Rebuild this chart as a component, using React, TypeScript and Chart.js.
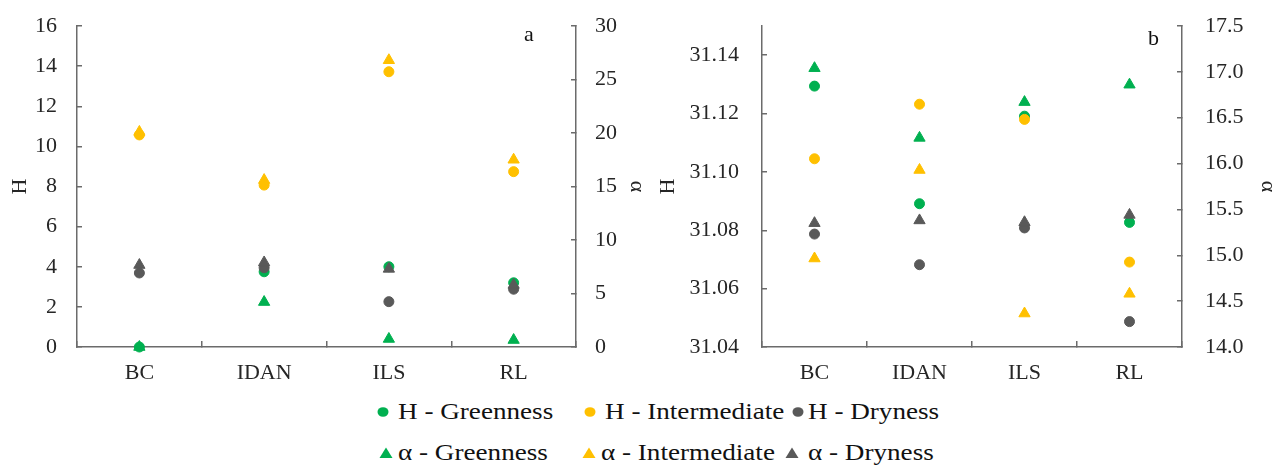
import React, { useEffect, useRef } from 'react';
import { Chart, registerables } from 'chart.js';

Chart.register(...registerables);

// ---------- data ----------
const categories = ['BC', 'IDAN', 'ILS', 'RL'];

const seriesNames = [
  'H - Greenness',
  'H - Intermediate',
  'H - Dryness',
  'α - Greenness',
  'α - Intermediate',
  'α - Dryness',
];
const seriesColors = ['#00B050', '#FFC000', '#595959', '#00B050', '#FFC000', '#595959'];

// Panel a (H on left axis, α on right axis)
const aHGreenness = [0.0, 3.75, 4.0, 3.2];
const aHIntermediate = [10.57, 8.07, 13.72, 8.74];
const aHDryness = [3.69, 3.95, 2.26, 2.88];
const aAlphaGreenness = [0.0, 4.2, 0.75, 0.65];
const aAlphaIntermediate = [20.1, 15.6, 26.8, 17.5];
const aAlphaDryness = [7.66, 7.9, 7.3, 5.8];

// Panel b
const bHGreenness = [31.1294, 31.0891, 31.1191, 31.0827];
const bHIntermediate = [31.1045, 31.1232, 31.118, 31.0691];
const bHDryness = [31.0787, 31.0682, 31.0808, 31.0487];
const bAlphaGreenness = [17.04, 16.28, 16.67, 16.86];
const bAlphaIntermediate = [14.965, 15.93, 14.365, 14.58];
const bAlphaDryness = [15.35, 15.38, 15.36, 15.44];

// axis ranges / ticks
const aHTicks = { min: 0, max: 16, step: 2, decimals: 0 };
const aAlphaTicks = { min: 0, max: 30, step: 5, decimals: 0 };
const bHTicks = { min: 31.04, max: 31.15, step: 0.02, decimals: 2 };
const bAlphaTicks = { min: 14.0, max: 17.5, step: 0.5, decimals: 1 };

// ---------- styling ----------
const FONT = "'Liberation Serif', 'Times New Roman', serif";
const AXIS = '#6b6b6b';
const TEXT = '#262626';

function pointDataset(i: number, data: number[], yAxisID: string) {
  const isCircle = i < 3;
  const color = seriesColors[i];
  return {
    label: seriesNames[i],
    data,
    yAxisID,
    showLine: false,
    pointStyle: isCircle ? 'circle' : 'triangle',
    pointRadius: isCircle ? 5 : 6.5,
    pointHoverRadius: isCircle ? 5 : 6.5,
    pointBackgroundColor: color,
    pointBorderColor: color,
    pointBorderWidth: 1,
    backgroundColor: color,
    borderColor: color,
    clip: false,
    order: 10 - i,
  };
}

function yScale(
  position: 'left' | 'right',
  t: { min: number; max: number; step: number; decimals: number },
  width: number,
  titleText: string,
  titlePad: number,
  titleLH: number,
  tickPad: number
) {
  return {
    type: 'linear',
    position,
    min: t.min,
    max: t.max,
    afterFit: (s: any) => {
      s.width = width;
      s.paddingTop = 0;
      s.paddingBottom = 0;
    },
    afterBuildTicks: (s: any) => {
      s.ticks = s.ticks.filter((tk: any) => {
        const k = (tk.value - t.min) / t.step;
        return Math.abs(k - Math.round(k)) < 1e-6;
      });
    },
    ticks: {
      stepSize: t.step,
      includeBounds: false,
      padding: tickPad,
      color: TEXT,
      font: { family: FONT, size: 22 },
      callback: (v: any) => Number(v).toFixed(t.decimals),
    },
    grid: {
      display: true,
      drawOnChartArea: false,
      drawTicks: true,
      tickLength: -5,
      color: AXIS,
      lineWidth: 1.5,
    },
    border: { display: true, color: AXIS, width: 1.5 },
    title: {
      display: true,
      text: titleText,
      color: TEXT,
      font: { family: FONT, size: 22, lineHeight: titleLH },
      padding: { top: titlePad, bottom: 0 },
    },
  };
}

function xScale() {
  return {
    type: 'category',
    offset: true,
    afterFit: (s: any) => {
      s.height = 33;
      s.paddingLeft = 0;
      s.paddingRight = 0;
    },
    ticks: {
      padding: 19,
      color: TEXT,
      font: { family: FONT, size: 22 },
    },
    grid: {
      display: true,
      drawOnChartArea: false,
      offset: true,
      drawTicks: true,
      tickLength: -6,
      color: AXIS,
      lineWidth: 1.5,
    },
    border: { display: true, color: AXIS, width: 1.5 },
  };
}

function baseOptions(scales: any) {
  return {
    responsive: false,
    animation: false,
    devicePixelRatio: 1,
    layout: { padding: { top: 26, left: 0, right: 0, bottom: 0 } },
    plugins: { legend: { display: false }, tooltip: { enabled: false } },
    events: [],
    scales,
  };
}

function configA(): any {
  return {
    type: 'line',
    data: {
      labels: categories,
      datasets: [
        pointDataset(0, aHGreenness, 'yH'),
        pointDataset(1, aHIntermediate, 'yH'),
        pointDataset(2, aHDryness, 'yH'),
        pointDataset(3, aAlphaGreenness, 'yA'),
        pointDataset(4, aAlphaIntermediate, 'yA'),
        pointDataset(5, aAlphaDryness, 'yA'),
      ],
    },
    options: baseOptions({
      x: xScale(),
      yH: yScale('left', aHTicks, 77, 'H', 7, 1.2, 25),
      yA: yScale('right', aAlphaTicks, 74, 'α', 0, 1.2, 24),
    }),
  };
}

function configB(): any {
  return {
    type: 'line',
    data: {
      labels: categories,
      datasets: [
        pointDataset(0, bHGreenness, 'yH'),
        pointDataset(1, bHIntermediate, 'yH'),
        pointDataset(2, bHDryness, 'yH'),
        pointDataset(3, bAlphaGreenness, 'yA'),
        pointDataset(4, bAlphaIntermediate, 'yA'),
        pointDataset(5, bAlphaDryness, 'yA'),
      ],
    },
    options: baseOptions({
      x: xScale(),
      yH: yScale('left', bHTicks, 126, 'H', 19, 1.2, 28),
      yA: yScale('right', bAlphaTicks, 98, 'α', 1, 1.0, 28),
    }),
  };
}

function Panel({ left, width, height, build }: { left: number; width: number; height: number; build: () => any }) {
  const ref = useRef<HTMLCanvasElement>(null);
  useEffect(() => {
    const chart = new Chart(ref.current as HTMLCanvasElement, build());
    return () => chart.destroy();
  }, []);
  return (
    <canvas
      ref={ref}
      width={width}
      height={height}
      style={{ position: 'absolute', left, top: 0, width, height, display: 'block' }}
    />
  );
}

function Marker({ i, cx, cy }: { i: number; cx: number; cy: number }) {
  const color = seriesColors[i];
  const isCircle = i < 3;
  return (
    <svg
      width={16}
      height={16}
      style={{ position: 'absolute', left: cx - 8, top: cy - 8, overflow: 'visible' }}
    >
      {isCircle ? (
        <ellipse cx={8} cy={8} rx={5.5} ry={4.8} fill={color} />
      ) : (
        <polygon points="1.5,13 14.5,13 8,2.5" fill={color} />
      )}
    </svg>
  );
}

const legendRows = [
  { y: 412, marker: [383, 590, 798], text: [398, 605, 808], series: [0, 1, 2] },
  { y: 453, marker: [386, 589, 792], text: [398, 601, 808], series: [3, 4, 5] },
];

export default function App() {
  const fs = 23;
  return (
    <div
      style={{
        position: 'fixed',
        left: 0,
        top: 0,
        width: 1272,
        height: 465,
        overflow: 'hidden',
        background: '#ffffff',
        fontFamily: FONT,
      }}
    >
      <Panel left={0} width={650} height={380} build={configA} />
      <Panel left={636} width={644} height={380} build={configB} />
      <span style={{ position: 'absolute', left: 524, top: 23, fontSize: 22, lineHeight: 1, color: '#111' }}>a</span>
      <span style={{ position: 'absolute', left: 1148, top: 27, fontSize: 22, lineHeight: 1, color: '#111' }}>b</span>
      {legendRows.map((row, r) =>
        row.series.map((si, k) => (
          <React.Fragment key={`${r}-${k}`}>
            <Marker i={si} cx={row.marker[k]} cy={row.y} />
            <span
              style={{
                position: 'absolute',
                left: row.text[k],
                top: row.y - 0.506 * fs,
                fontSize: fs,
                lineHeight: 1,
                whiteSpace: 'nowrap',
                color: '#111',
                transform: 'scaleX(1.18)',
                transformOrigin: 'left center',
              }}
            >
              {seriesNames[si]}
            </span>
          </React.Fragment>
        ))
      )}
    </div>
  );
}
